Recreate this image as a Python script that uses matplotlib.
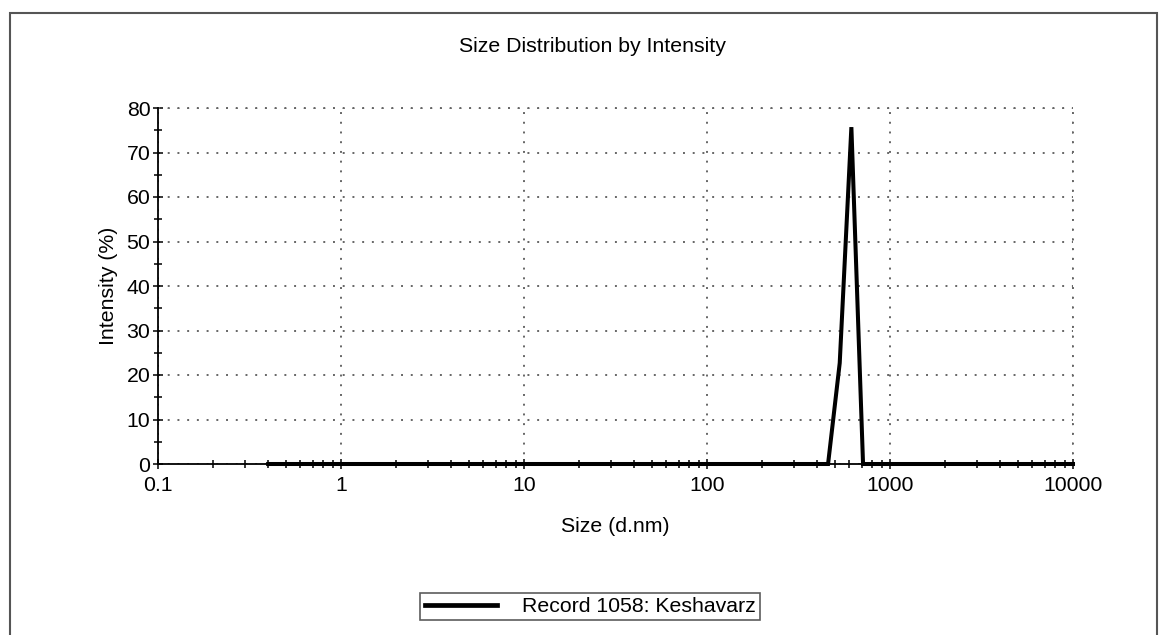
import matplotlib.pyplot as plt
from matplotlib.patches import Rectangle
from matplotlib.ticker import FixedLocator, LogLocator, NullFormatter

plt.rcParams['font.family'] = ['Liberation Sans', 'DejaVu Sans']

# size bins (d.nm) and intensity (%)
size_nm = [0.4, 458.7, 531.2, 615.1, 712.4, 10000]
intensity = [0, 0, 22.7, 75.7, 0, 0]
label = "Record 1058: Keshavarz"

xticks = [0.1, 1, 10, 100, 1000, 10000]
xticklabels = ["0.1", "1", "10", "100", "1000", "10000"]
yticks = [0, 10, 20, 30, 40, 50, 60, 70, 80]
fs = 15.3

fig = plt.figure(figsize=(11.6, 6.35), dpi=100)
fig.patches.append(Rectangle((10/1160, -0.01), 1147/1160, 1.01 - 13/635,
                             transform=fig.transFigure, fill=False,
                             edgecolor='#555555', linewidth=1.5))

ax = fig.add_axes([158/1160, 1 - 464/635, 915/1160, 356/635])
ax.plot(size_nm, intensity, color='black', linewidth=2.9, label=label,
        solid_joinstyle='miter', clip_on=False, zorder=5)

ax.set_xscale('log')
ax.set_xlim(0.1, 10000)
ax.set_ylim(0, 80)
ax.xaxis.set_major_locator(FixedLocator(xticks))
ax.set_xticklabels(xticklabels)
ax.xaxis.set_minor_locator(LogLocator(base=10, subs=range(2, 10)))
ax.xaxis.set_minor_formatter(NullFormatter())
ax.set_yticks(yticks)
ax.yaxis.set_minor_locator(FixedLocator([5, 15, 25, 35, 45, 55, 65, 75]))

ax.tick_params(axis='both', which='major', direction='inout', length=7,
               width=1.1, labelsize=fs, color='black')
ax.tick_params(axis='both', which='minor', direction='inout', length=6, width=1.1)
ax.tick_params(axis='x', pad=5)
ax.tick_params(axis='y', pad=2)

ax.spines['top'].set_visible(False)
ax.spines['right'].set_visible(False)
ax.spines['left'].set_linewidth(1.3)
ax.spines['bottom'].set_linewidth(1.3)

dots = (0, (1, 4))
ax.grid(True, which='major', linestyle=dots, color='#666666', linewidth=1.4)
# dotted frame at top and right (gridlines at 80 and 10000)
ax.axhline(80, linestyle=dots, color='#666666', linewidth=1.4, clip_on=False)
ax.axvline(10000, linestyle=dots, color='#666666', linewidth=1.4, clip_on=False)

fig.text(592/1160, 1 - 47/635, "Size Distribution by Intensity", ha='center',
         va='center', fontsize=fs)
ax.set_xlabel("Size (d.nm)", fontsize=fs, labelpad=16)
ax.set_ylabel("Intensity (%)", fontsize=fs, labelpad=6)

leg = ax.legend(loc='center', bbox_to_anchor=(590.5/1160, 1 - 606.5/635),
                bbox_transform=fig.transFigure, fancybox=False, frameon=True,
                fontsize=fs, handlelength=3.4, handletextpad=1.2,
                borderpad=0.2, borderaxespad=0)
leg.get_frame().set_edgecolor('#333333')
leg.get_frame().set_linewidth(1.2)
leg.get_lines()[0].set_linewidth(3.4)

fig.savefig("out.png", dpi=100)
